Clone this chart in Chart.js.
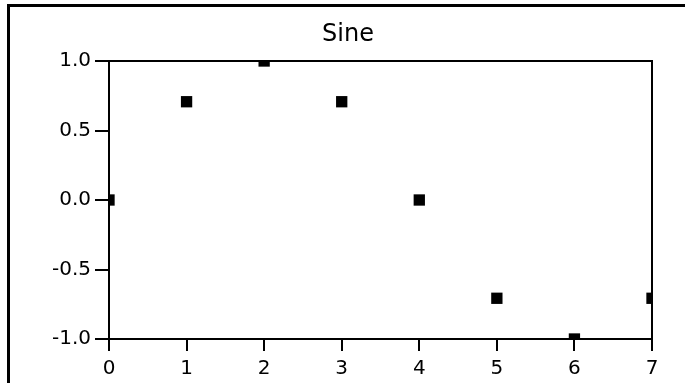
<!DOCTYPE html>
<html>
<head>
<meta charset="utf-8">
<script src="https://cdn.jsdelivr.net/npm/chart.js@4/dist/chart.umd.min.js"></script>
<style>
  html, body { margin: 0; padding: 0; background: #fff; overflow: hidden; }
  #wrap { position: relative; width: 685px; height: 383px; }
  #frame { position: absolute; left: 7px; top: 4px; width: 678px; height: 379px;
           border-left: 3px solid #000; border-top: 3px solid #000; box-sizing: border-box; pointer-events: none; }
</style>
</head>
<body>
<div id="wrap">
  <canvas id="c" width="685" height="383"></canvas>
  <div id="frame"></div>
</div>
<script>
const chartTitle = 'Sine';
const xValues = [0, 1, 2, 3, 4, 5, 6, 7];
const sineValues = [0, 0.707, 1, 0.707, 0, -0.707, -1, -0.707];
const yTickValues = [-1.0, -0.5, 0.0, 0.5, 1.0];
const xTickValues = [0, 1, 2, 3, 4, 5, 6, 7];

const points = xValues.map((x, i) => ({ x: x, y: sineValues[i] }));
const FONT = "'DejaVu Sans', sans-serif";

const plotBox = {
  id: 'plotBox',
  afterDatasetsDraw(chart) {
    const a = chart.chartArea, ctx = chart.ctx;
    ctx.save();
    ctx.strokeStyle = '#000';
    ctx.lineWidth = 2;
    ctx.strokeRect(a.left, a.top, a.right - a.left, a.bottom - a.top);
    ctx.restore();
  }
};

new Chart(document.getElementById('c'), {
  type: 'scatter',
  data: {
    datasets: [{
      data: points,
      pointStyle: 'rect',
      pointRadius: 8,
      pointHoverRadius: 8,
      backgroundColor: '#000',
      borderColor: '#000',
      borderWidth: 0,
      showLine: false,
      clip: 0
    }]
  },
  options: {
    responsive: false,
    animation: false,
    layout: { padding: { left: 44, right: 33, top: 0, bottom: 0 } },
    plugins: {
      legend: { display: false },
      tooltip: { enabled: false },
      title: {
        display: true,
        text: chartTitle,
        color: '#000',
        font: { family: FONT, size: 24, weight: 'normal' },
        padding: { top: 20, bottom: 12.2 }
      }
    },
    scales: {
      x: {
        type: 'linear',
        min: 0, max: 7,
        afterBuildTicks: (axis) => { axis.ticks = xTickValues.map(v => ({ value: v })); },
        afterFit: (axis) => { axis.height = 44; },
        ticks: { color: '#000', font: { family: FONT, size: 20 }, padding: 6,
                 callback: (v) => String(v), maxRotation: 0 },
        grid: { drawOnChartArea: false, color: '#000', tickLength: 12, lineWidth: 2, tickColor: '#000' },
        border: { display: true, color: '#000', width: 2 }
      },
      y: {
        type: 'linear',
        min: -1, max: 1,
        afterBuildTicks: (axis) => { axis.ticks = yTickValues.map(v => ({ value: v })); },
        afterFit: (axis) => { axis.width = 65; },
        ticks: { color: '#000', font: { family: FONT, size: 20 }, padding: 4,
                 callback: (v) => Number(v).toFixed(1) },
        grid: { drawOnChartArea: false, color: '#000', tickLength: 14, lineWidth: 2, tickColor: '#000' },
        border: { display: true, color: '#000', width: 2 }
      }
    }
  },
  plugins: [plotBox]
});
</script>
</body>
</html>
